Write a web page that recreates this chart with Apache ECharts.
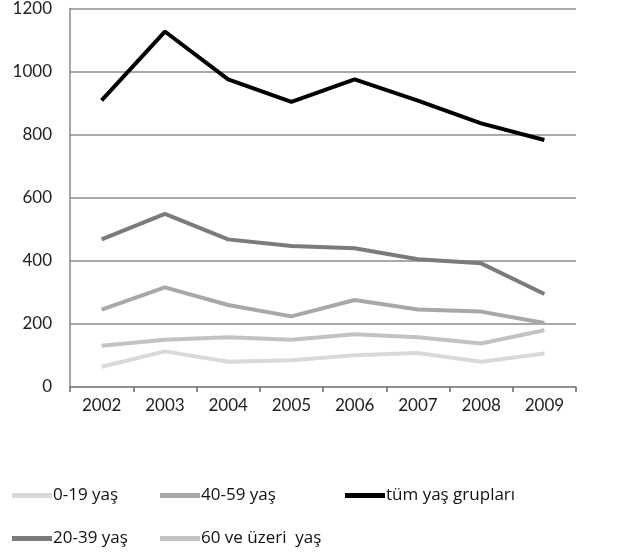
<!DOCTYPE html>
<html>
<head>
<meta charset="utf-8">
<script src="https://cdn.jsdelivr.net/npm/echarts@6/dist/echarts.min.js"></script>
<style>html,body{margin:0;padding:0;background:#fff}#c{width:632px;height:556px}</style>
</head>
<body>
<div id="c"></div>
<script>
var years = ['2002','2003','2004','2005','2006','2007','2008','2009'];
var yTicks = [0, 200, 400, 600, 800, 1000, 1200];
var s0_19 = [64, 113, 80, 85, 101, 108, 80, 106];
var s20_39 = [468, 549, 468, 447, 440, 405, 392, 295];
var s40_59 = [245, 316, 260, 224, 276, 246, 239, 203];
var s60 = [131, 150, 158, 150, 167, 158, 138, 180];
var sAll = [909, 1127, 975, 904, 975, 908, 836, 783];
var names = ['0-19 yaş', '20-39 yaş', '40-59 yaş', '60 ve üzeri  yaş', 'tüm yaş grupları'];
var colors = ['#d9d9d9', '#7b7b7b', '#a8a8a8', '#c3c3c3', '#000000'];
var values = [s0_19, s20_39, s40_59, s60, sAll];
var legendPos = [[12, 487], [12, 530], [160, 487], [160, 530], [345, 487]];

var chart = echarts.init(document.getElementById('c'), null, {renderer: 'canvas'});
var legends = names.map(function (n, i) {
  return {
    data: [n], left: legendPos[i][0], top: legendPos[i][1],
    icon: 'rect', itemWidth: 40, itemHeight: 5, padding: 0,
    selectedMode: false,
    textStyle: {fontFamily: 'Open Sans', fontSize: 17, color: '#111', padding: [0, 0, 0, -4]}
  };
});
chart.setOption({
  animation: false,
  color: colors,
  legend: legends,
  grid: {left: 70, right: 56, top: 6, bottom: 169, containLabel: false},
  xAxis: {
    type: 'category', data: years, boundaryGap: true,
    axisLine: {lineStyle: {color: '#888', width: 1.5}},
    axisTick: {show: true, length: 5, lineStyle: {color: '#666', width: 1.5}},
    axisLabel: {fontFamily: 'Lato', fontSize: 17, color: '#222', margin: 10}
  },
  yAxis: {
    type: 'value', min: yTicks[0], max: yTicks[yTicks.length - 1], interval: 200,
    axisLine: {show: true, lineStyle: {color: '#888', width: 1.5}},
    axisTick: {show: false},
    splitLine: {lineStyle: {color: '#8c8c8c', width: 1.5}},
    axisLabel: {fontFamily: 'Lato', fontSize: 17, color: '#222', margin: 18,
      formatter: function (v) { return String(v); }}
  },
  series: names.map(function (n, i) {
    return {
      name: n, type: 'line', data: values[i], showSymbol: false, symbol: 'none',
      lineStyle: {width: 4, color: colors[i]}, itemStyle: {color: colors[i]}
    };
  })
});
</script>
</body>
</html>
